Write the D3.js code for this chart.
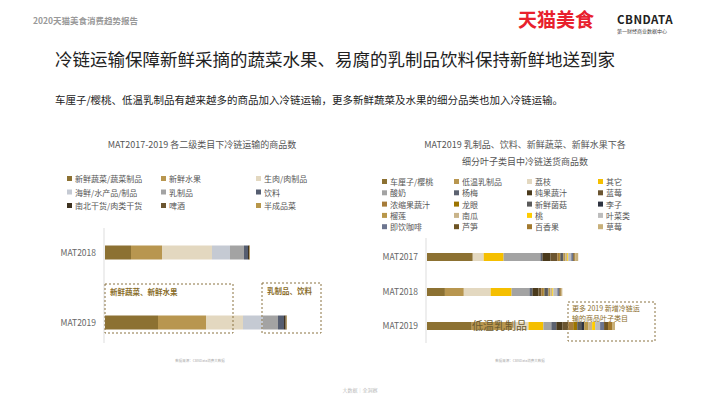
<!DOCTYPE html><html><head><meta charset="utf-8">
<script src="https://cdn.jsdelivr.net/npm/d3@7"></script>
<style>body{margin:0;background:#fff}svg{font-family:"Noto Sans CJK SC","Noto Sans",sans-serif}</style></head><body>
<svg id="c" width="720" height="405"></svg>
<script>
const leftCats=["MAT2018","MAT2019"];
const leftSeries=["新鲜蔬菜/蔬菜制品","新鲜水果","生肉/肉制品","海鲜/水产品/制品","乳制品","饮料","南北干货/肉类干货","啤酒","半成品菜"];
const leftColors=["#8c7132","#b8964f","#e3d8c0","#c5cad3","#a3a3a3","#555d70","#3e3220","#6b5530","#b8974a"];
const leftValues=[[26,31,50,18,14,4,1,0.5,0.5],[53,48,37,20,15,6,1.5,1,0.5]];
const rightCats=["MAT2017","MAT2018","MAT2019"];
const rightSeries=["车厘子/樱桃","低温乳制品","荔枝","其它","酸奶","杨梅","纯果蔬汁","蓝莓","浓缩果蔬汁","龙眼","新鲜菌菇","李子","榴莲","南瓜","桃","叶菜类","即饮咖啡","芦笋","百香果","草莓"];
const rightColors=["#8c7132","#b8964f","#e3d8c0","#f5bf00","#a3a3a3","#5c6270","#4a3a1c","#6b5530","#a67c3a","#9c7400","#5a5a5a","#2e3340","#b8974a","#c9b48a","#ffcc00","#bdbdbd","#6d7690","#6e5424","#a2792e","#c8b07a"];
const rightValues=[[46,0,11,20,37,2,8,7,2,1,2,1,2,2,1,3,2,1,1,3],[18,19,27,21,18,3,6,3,2,1,3,1,2,2,1,4,2,1,1,1],[45,41,16,15,8,5,6,6,5,4,4,3,4,4,3,5,4,4,4,3]];

const svg=d3.select("#c");
const T=(x,y,s,size,fill,o={})=>{const t=svg.append("text").attr("x",x).attr("y",y).text(s).attr("font-size",size).attr("fill",fill);for(const k in o)t.attr(k,o[k]);return t;};
T(33,24,"2020天猫美食消费趋势报告",8.5,"#999",{"font-weight":"bold"});
T(518,27,"天猫美食",19,"#e8212d",{"font-weight":"bold"});
T(617,24,"CBNDATA",11.5,"#222",{"font-weight":"bold","letter-spacing":"0.5"});
T(617,33,"第一财经商业数据中心",5,"#444");
T(55,66,"冷链运输保障新鲜采摘的蔬菜水果、易腐的乳制品饮料保持新鲜地送到家",17.5,"#222");
T(55,104,"车厘子/樱桃、低温乳制品有越来越多的商品加入冷链运输，更多新鲜蔬菜及水果的细分品类也加入冷链运输。",10.5,"#222");

// left chart
T(202,148,"MAT2017-2019 各二级类目下冷链运输的商品数",9,"#555",{"text-anchor":"middle"});
const lcol=[67,161,256];
leftSeries.forEach((s,i)=>{const x=lcol[i%3],y=182+Math.floor(i/3)*13.5;
 svg.append("rect").attr("x",x).attr("y",y-6).attr("width",5).attr("height",5).attr("fill",leftColors[i]);
 T(x+8,y,s,8,"#555");});
const lx=d3.scaleLinear().domain([0,187]).range([105,292]);
const ly=d3.scaleBand().domain(leftCats).range([235,340]).paddingInner(0.5);
svg.append("line").attr("x1",104).attr("x2",104).attr("y1",228).attr("y2",343).attr("stroke","#ddd");
const lst=d3.stack().keys(d3.range(leftSeries.length))(leftValues);
lst.forEach((layer,i)=>layer.forEach((d,j)=>svg.append("rect").attr("x",lx(d[0])).attr("width",lx(d[1])-lx(d[0])).attr("y",ly(leftCats[j])+ly.bandwidth()/2-7).attr("height",14).attr("fill",leftColors[i])));
leftCats.forEach(c=>T(96,ly(c)+ly.bandwidth()/2+3,c,8.5,"#666",{"text-anchor":"end"}));
svg.append("rect").attr("x",105).attr("y",284).attr("width",128).attr("height",49).attr("fill","none").attr("stroke","#8a7340").attr("stroke-dasharray","2,2");
T(110,295,"新鲜蔬菜、新鲜水果",7.5,"#8a6d2a",{"font-weight":"bold"});
svg.append("rect").attr("x",262).attr("y",283).attr("width",59).attr("height",50).attr("fill","none").attr("stroke","#8a7340").attr("stroke-dasharray","2,2");
T(267,294,"乳制品、饮料",7.5,"#8a6d2a",{"font-weight":"bold"});

// right chart
T(525,148,"MAT2019 乳制品、饮料、新鲜蔬菜、新鲜水果下各",9,"#555",{"text-anchor":"middle"});
T(525,165,"细分叶子类目中冷链送货商品数",9,"#555",{"text-anchor":"middle"});
const rcol=[382,454,527,598];
rightSeries.forEach((s,i)=>{const x=rcol[i%4],y=185+Math.floor(i/4)*11.3;
 svg.append("rect").attr("x",x).attr("y",y-6).attr("width",5).attr("height",5).attr("fill",rightColors[i]);
 T(x+8,y,s,8,"#555");});
const rx=d3.scaleLinear().domain([0,190]).range([427,616]);
const ry=d3.scaleOrdinal().domain(rightCats).range([257,292,326]);
svg.append("line").attr("x1",426).attr("x2",426).attr("y1",238).attr("y2",343).attr("stroke","#ddd");
const rst=d3.stack().keys(d3.range(rightSeries.length))(rightValues);
rst.forEach((layer,i)=>layer.forEach((d,j)=>{if(d[1]>d[0])svg.append("rect").attr("x",rx(d[0])).attr("width",rx(d[1])-rx(d[0])).attr("y",ry(rightCats[j])-4).attr("height",8).attr("fill",rightColors[i]);}));
rightCats.forEach(c=>T(418,ry(c)+3,c,8.5,"#666",{"text-anchor":"end"}));
T(472,330,"低温乳制品",11,"#6b5a30");
svg.append("rect").attr("x",568).attr("y",302).attr("width",87).attr("height",39).attr("fill","none").attr("stroke","#8a7340").attr("stroke-dasharray","2,2");
T(572,311,"更多 2019 新增冷链运",7,"#8a6d2a");
T(572,321,"输的商品叶子类目",7,"#8a6d2a");

T(200,362,"数据来源：CBNData消费大数据",3.5,"#aaa",{"text-anchor":"middle"});
T(520,362,"数据来源：CBNData消费大数据",3.5,"#aaa",{"text-anchor":"middle"});
T(360,392,"大数据｜全洞察",5,"#bbb",{"text-anchor":"middle"});
</script></body></html>
